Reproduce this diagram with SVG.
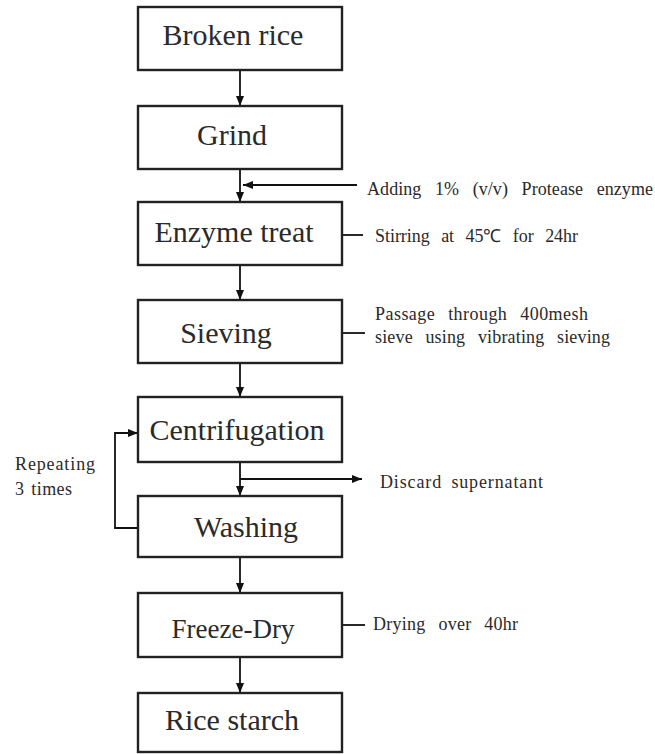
<svg xmlns="http://www.w3.org/2000/svg" width="655" height="754" viewBox="0 0 655 754">
<style>
.box{fill:#fff;stroke:#222;stroke-width:2.4}
.lbl{font-family:"Liberation Serif","Times New Roman",Times,serif;font-size:30px;fill:#2a2a2a;text-anchor:middle}
.note{font-family:"Liberation Serif","Times New Roman",Times,serif;font-size:18px;fill:#2a2a2a}
.ln{fill:none;stroke:#111;stroke-width:1.8}
</style>
<defs>
<marker id="ah" markerUnits="userSpaceOnUse" markerWidth="10" markerHeight="10" viewBox="0 0 10 10" refX="10" refY="5" orient="auto">
<path d="M0,1 L10,5 L0,9 Z" fill="#111"/>
</marker>
</defs>
<rect width="655" height="754" fill="#fff"/>
<g id="connectors">
<line class="ln" x1="240" y1="70" x2="240" y2="106" marker-end="url(#ah)"/>
<line class="ln" x1="240" y1="169" x2="240" y2="202" marker-end="url(#ah)"/>
<line class="ln" x1="357" y1="185" x2="243" y2="185" marker-end="url(#ah)"/>
<line class="ln" x1="240" y1="265" x2="240" y2="300" marker-end="url(#ah)"/>
<line class="ln" x1="342" y1="235" x2="363" y2="235"/>
<line class="ln" x1="240" y1="363" x2="240" y2="397" marker-end="url(#ah)"/>
<line class="ln" x1="342" y1="333" x2="365" y2="333"/>
<line class="ln" x1="240" y1="462" x2="240" y2="496" marker-end="url(#ah)"/>
<line class="ln" x1="240" y1="479" x2="362" y2="479" marker-end="url(#ah)"/>
<polyline class="ln" points="138,528 115,528 115,433 138,433" marker-end="url(#ah)"/>
<line class="ln" x1="240" y1="557" x2="240" y2="593" marker-end="url(#ah)"/>
<line class="ln" x1="240" y1="657" x2="240" y2="693" marker-end="url(#ah)"/>
<line class="ln" x1="342" y1="625" x2="365" y2="625"/>
</g>
<g id="broken-rice"><rect class="box" x="138" y="7" width="204" height="63"/><text class="lbl" x="233" y="45">Broken rice</text></g>
<g id="grind"><rect class="box" x="138" y="106" width="204" height="63"/><text class="lbl" x="232" y="145">Grind</text></g>
<g id="enzyme-treat"><rect class="box" x="138" y="202" width="204" height="63"/><text class="lbl" x="234" y="242">Enzyme treat</text></g>
<g id="sieving"><rect class="box" x="138" y="300" width="204" height="63"/><text class="lbl" x="226" y="343">Sieving</text></g>
<g id="centrifugation"><rect class="box" x="138" y="397" width="204" height="65"/><text class="lbl" x="237" y="440">Centrifugation</text></g>
<g id="washing"><rect class="box" x="138" y="496" width="204" height="61"/><text class="lbl" x="246" y="537">Washing</text></g>
<g id="freeze-dry"><rect class="box" x="138" y="593" width="204" height="64"/><text class="lbl" x="233" y="638" style="font-size:27px">Freeze-Dry</text></g>
<g id="rice-starch"><rect class="box" x="138" y="693" width="204" height="59"/><text class="lbl" x="232" y="730">Rice starch</text></g>
<g id="notes">
<text class="note" x="367" y="195" word-spacing="9" textLength="286" lengthAdjust="spacing">Adding 1% (v/v) Protease enzyme</text>
<text class="note" x="375" y="242" word-spacing="7" textLength="203" lengthAdjust="spacing">Stirring at 45℃ for 24hr</text>
<text class="note" x="375" y="320" word-spacing="8" textLength="213" lengthAdjust="spacing">Passage through 400mesh</text>
<text class="note" x="375" y="343" word-spacing="8" textLength="235" lengthAdjust="spacing">sieve using vibrating sieving</text>
<text class="note" x="380" y="488" word-spacing="4" textLength="163" lengthAdjust="spacing">Discard supernatant</text>
<text class="note" x="373" y="630" word-spacing="8" textLength="145" lengthAdjust="spacing">Drying over 40hr</text>
<text class="note" x="15" y="470" textLength="80" lengthAdjust="spacing">Repeating</text>
<text class="note" x="15" y="495" word-spacing="2" textLength="57" lengthAdjust="spacing">3 times</text>
</g>
</svg>
